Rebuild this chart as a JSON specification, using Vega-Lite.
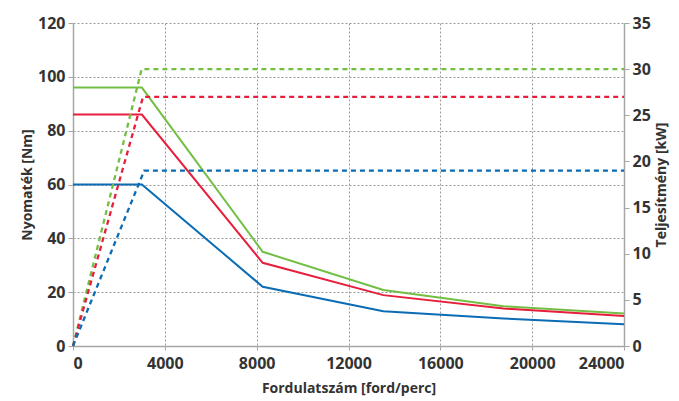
{
  "$schema": "https://vega.github.io/schema/vega-lite/v6.json",
  "autosize": "none",
  "width": 551,
  "height": 323,
  "padding": {"left": 73, "top": 23, "right": 55, "bottom": 55},
  "background": "white",
  "config": {
    "view": {"stroke": null},
    "font": "Open Sans",
    "axis": {
      "labelFont": "Open Sans", "labelFontWeight": "bold", "labelFontSize": 16, "labelColor": "#333333",
      "titleFont": "Open Sans", "titleFontWeight": "bold", "titleFontSize": 14, "titleColor": "#333333",
      "domainColor": "#a6a6a6", "domainWidth": 1.5, "tickColor": "#a6a6a6", "tickSize": 5,
      "gridColor": "#9a9a9a", "gridDash": [2, 2], "gridWidth": 1
    }
  },
  "datasets": {
    "torque": [
      {"rpm": 0, "nm": 96, "s": "g"}, {"rpm": 3000, "nm": 96, "s": "g"}, {"rpm": 8263, "nm": 35.0, "s": "g"}, {"rpm": 13516, "nm": 20.8, "s": "g"}, {"rpm": 18750, "nm": 14.8, "s": "g"}, {"rpm": 24000, "nm": 12.1, "s": "g"},
      {"rpm": 0, "nm": 86, "s": "r"}, {"rpm": 3000, "nm": 86, "s": "r"}, {"rpm": 8263, "nm": 30.9, "s": "r"}, {"rpm": 13516, "nm": 18.9, "s": "r"}, {"rpm": 18750, "nm": 13.9, "s": "r"}, {"rpm": 24000, "nm": 11.1, "s": "r"},
      {"rpm": 0, "nm": 60, "s": "b"}, {"rpm": 3000, "nm": 60, "s": "b"}, {"rpm": 8263, "nm": 22.0, "s": "b"}, {"rpm": 13516, "nm": 12.9, "s": "b"}, {"rpm": 18750, "nm": 10.2, "s": "b"}, {"rpm": 24000, "nm": 8.1, "s": "b"}
    ],
    "power": [
      {"rpm": 0, "kw": 0, "s": "g"}, {"rpm": 2990, "kw": 30, "s": "g"}, {"rpm": 24000, "kw": 30, "s": "g"},
      {"rpm": 0, "kw": 0, "s": "r"}, {"rpm": 3050, "kw": 27, "s": "r"}, {"rpm": 24000, "kw": 27, "s": "r"},
      {"rpm": 0, "kw": 0, "s": "b"}, {"rpm": 3100, "kw": 19, "s": "b"}, {"rpm": 24000, "kw": 19, "s": "b"}
    ]
  },
  "layer": [
    {
      "data": {"name": "torque"},
      "mark": {"type": "line", "strokeWidth": 2},
      "encoding": {
        "x": {"field": "rpm", "type": "quantitative", "scale": {"domain": [0, 24000], "nice": false},
          "axis": {"values": [0, 4000, 8000, 12000, 16000, 20000, 24000], "format": "d", "title": "Fordulatszám [ford/perc]", "labelPadding": 5, "titlePadding": 10, "tickSize": 4}},
        "y": {"field": "nm", "type": "quantitative", "scale": {"domain": [0, 120], "nice": false},
          "axis": {"values": [0, 20, 40, 60, 80, 100, 120], "title": "Nyomaték [Nm]", "titlePadding": 3, "labelPadding": 3}},
        "color": {"field": "s", "type": "nominal", "scale": {"domain": ["g", "r", "b"], "range": ["#72bf44", "#e61e3c", "#0a6cb4"]}, "legend": null},
        "detail": {"field": "s"}
      }
    },
    {
      "data": {"name": "power"},
      "mark": {"type": "line", "strokeWidth": 2.3, "strokeDash": [5, 4]},
      "encoding": {
        "x": {"field": "rpm", "type": "quantitative", "scale": {"domain": [0, 24000], "nice": false}},
        "y": {"field": "kw", "type": "quantitative", "scale": {"domain": [0, 35], "nice": false},
          "axis": {"orient": "right", "values": [0, 5, 10, 15, 20, 25, 30, 35], "grid": false, "title": "Teljesítmény [kW]", "titleAngle": 270, "titleBaseline": "top", "titlePadding": 4, "labelPadding": 3}},
        "color": {"field": "s", "type": "nominal", "scale": {"domain": ["g", "r", "b"], "range": ["#72bf44", "#e61e3c", "#0a6cb4"]}, "legend": null}
      }
    }
  ],
  "resolve": {"scale": {"y": "independent"}}
}
